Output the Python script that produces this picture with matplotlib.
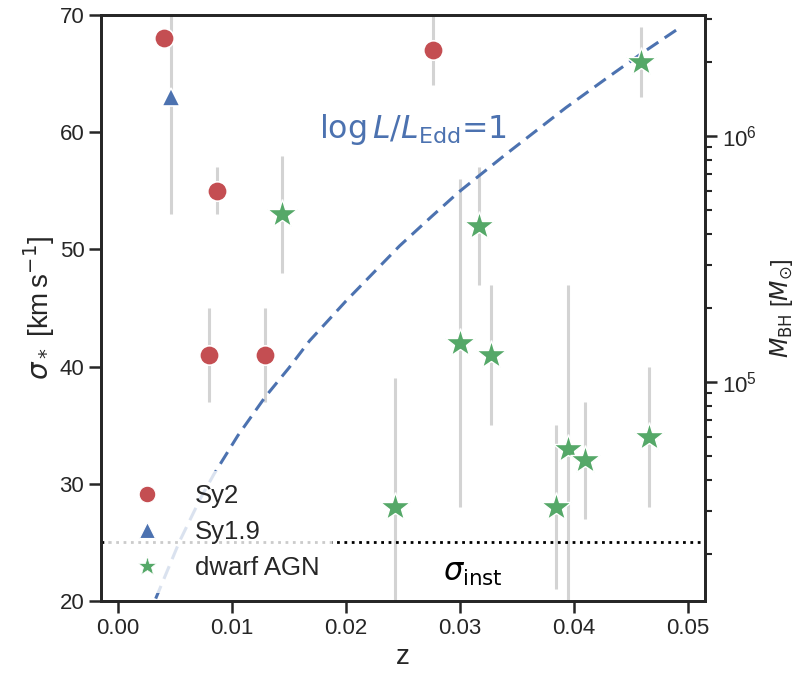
import numpy as np
import matplotlib
matplotlib.use("Agg")
import matplotlib.pyplot as plt
from matplotlib.lines import Line2D
from matplotlib.ticker import LogLocator, NullFormatter

plt.rcParams['font.family'] = ['Liberation Sans', 'DejaVu Sans']
plt.rcParams['mathtext.fontset'] = 'dejavusans'

# ---- data ----
sy2_z = [0.0040, 0.0087, 0.0080, 0.0129, 0.0276]
sy2_sig = [68, 55, 41, 41, 67]
sy2_err = [0, 2, 4, 4, 3]

sy19_z = [0.0046]
sy19_sig = [63]
sy19_err = [10]

dw_z = [0.0144, 0.0243, 0.0300, 0.0317, 0.0327, 0.0384, 0.0395, 0.0410, 0.0466, 0.0459]
dw_sig = [53, 28, 42, 52, 41, 28, 33, 32, 34, 66]
dw_err = [5, 11, 14, 5, 6, 7, 14, 5, 6, 3]

edd_z = [0.0033, 0.0054, 0.0072, 0.0084, 0.0105, 0.0129, 0.0150, 0.0168, 0.0200,
         0.0247, 0.0275, 0.0299, 0.0340, 0.0393, 0.0430, 0.0459, 0.0491]
edd_sig = [20.2, 25.1, 28.7, 30.8, 34.1, 37.4, 39.9, 42.2, 45.6,
           50.3, 52.8, 54.9, 58.1, 62.1, 64.7, 66.7, 68.8]

sigma_inst = 25

# M-sigma relation used for the right-hand axis
def msigma(s):
    return 0.309e9 * (np.asarray(s) / 200.0) ** 4.38

red = '#C44E52'
blue = '#4C72B0'
green = '#55A868'
grey = '#d3d3d3'
dark = '#262626'

fig = plt.figure(figsize=(7.97, 6.77), dpi=100)
ax = fig.add_axes([0.1267, 0.1123, 0.7579, 0.8655])

ax.errorbar(sy2_z, sy2_sig, yerr=sy2_err, fmt='none', ecolor=grey, elinewidth=2.2, zorder=1)
ax.errorbar(sy19_z, sy19_sig, yerr=sy19_err, fmt='none', ecolor=grey, elinewidth=2.2, zorder=1)
ax.errorbar(dw_z, dw_sig, yerr=dw_err, fmt='none', ecolor=grey, elinewidth=2.2, zorder=1)

ax.plot(sy2_z, sy2_sig, 'o', color=red, ms=14, mec='white', mew=1.2, ls='none', zorder=3)
ax.plot(sy19_z, sy19_sig, '^', color=blue, ms=13, mec='white', mew=1.2, ls='none', zorder=3)
ax.plot(dw_z, dw_sig, '*', color=green, ms=22, mec='white', mew=1.0, ls='none', zorder=3)

ax.plot(edd_z, edd_sig, ls=(0, (4.5, 2.5)), color=blue, lw=2.2, zorder=2)
ax.axhline(sigma_inst, color='black', ls=':', lw=2.0, zorder=2)

ax.text(0.0176, 60.2, r'$\log L/L_{\rm Edd}$=1', color=blue, fontsize=22.8,
        va='center', ha='left', family='DejaVu Sans')
ax.text(0.0311, 22.4, r'$\sigma_{\rm inst}$', color='black', fontsize=22,
        va='center', ha='center')

ax.set_xlim(-0.0015, 0.0515)
ax.set_ylim(20, 70)
ax.set_xticks([0.00, 0.01, 0.02, 0.03, 0.04, 0.05])
ax.set_xticklabels(['0.00', '0.01', '0.02', '0.03', '0.04', '0.05'])
ax.set_yticks([20, 30, 40, 50, 60, 70])
ax.set_xlabel('z', fontsize=20, color=dark, labelpad=4)
ax.set_ylabel(r'$\sigma_*$ [km$\,$s$^{-1}$]', fontsize=20, color=dark, labelpad=2)

for sp in ax.spines.values():
    sp.set_linewidth(2.0)
    sp.set_color(dark)
ax.tick_params(axis='both', which='major', labelsize=16, length=8.5, width=1.8,
               colors=dark, direction='out')

ax2 = ax.twinx()
ax2.set_yscale('log')
ax2.set_ylim(msigma(20), msigma(70))
ax2.yaxis.set_major_locator(LogLocator(base=10))
ax2.yaxis.set_minor_locator(LogLocator(base=10, subs=np.arange(2, 10)))
ax2.yaxis.set_minor_formatter(NullFormatter())
ax2.tick_params(axis='y', which='major', labelsize=16, length=8.5, width=1.8, colors=dark)
ax2.tick_params(axis='y', which='minor', length=5, width=1.5, colors=dark)
ax2.set_ylabel(r'$M_{\rm BH}$ [$M_{\odot}$]', fontsize=17, color=dark, labelpad=8)
for sp in ax2.spines.values():
    sp.set_linewidth(2.0)
    sp.set_color(dark)

handles = [
    Line2D([], [], marker='o', color=red, ls='none', ms=12, mec='white', mew=0.8),
    Line2D([], [], marker='^', color=blue, ls='none', ms=12, mec='white', mew=0.8),
    Line2D([], [], marker='*', color=green, ls='none', ms=14, mec='white', mew=0.5),
]
leg = ax2.legend(handles, ['Sy2', 'Sy1.9', 'dwarf AGN'], loc='lower left',
                 bbox_to_anchor=(0.0, 0.0), fontsize=18.5, frameon=True,
                 framealpha=0.8, edgecolor='none', handletextpad=0.85,
                 labelspacing=0.48, borderpad=0.5, handlelength=2.0,
                 borderaxespad=0.3)
leg.get_frame().set_facecolor('white')
for t in leg.get_texts():
    t.set_color(dark)

fig.savefig('out.png', dpi=100)
